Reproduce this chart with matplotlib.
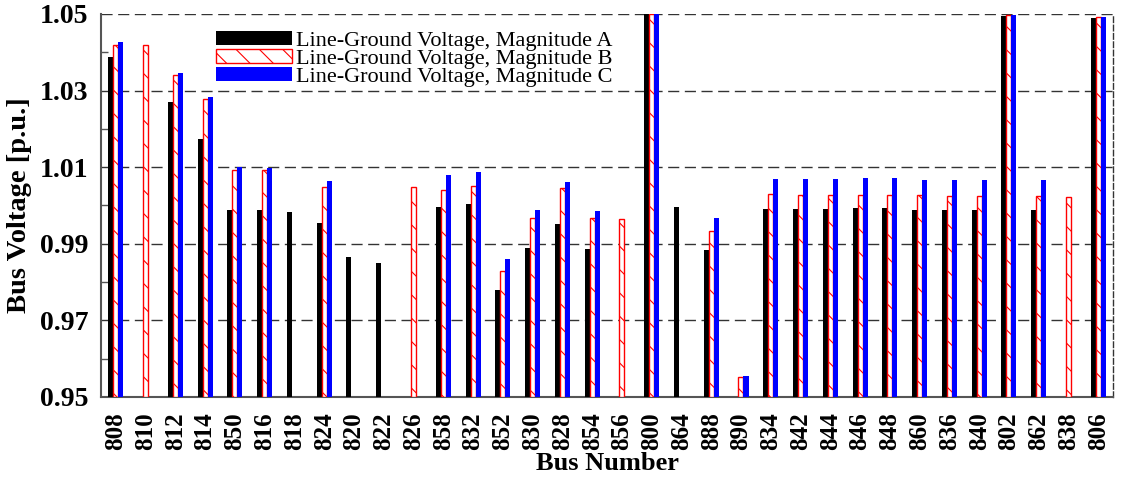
import numpy as np
import matplotlib
matplotlib.use("Agg")
import matplotlib.pyplot as plt
from matplotlib.ticker import MultipleLocator

nan = np.nan
buses = ["808", "810", "812", "814", "850", "816", "818", "824", "820", "822",
         "826", "858", "832", "852", "830", "828", "854", "856", "800", "864",
         "888", "890", "834", "842", "844", "846", "848", "860", "836", "840",
         "802", "862", "838", "806"]
mag_a = [1.0388, nan, 1.0269, 1.0173, 0.9989, 0.9987, 0.9984, 0.9955, 0.9866, 0.9851,
         nan, 0.9997, 1.0004, 0.9779, 0.9888, 0.9952, 0.9887, nan, 1.0500, 0.9997,
         0.9884, nan, 0.9990, 0.9990, 0.9990, 0.9993, 0.9993, 0.9988, 0.9987, 0.9987,
         1.0494, 0.9987, nan, 1.0489]
mag_b = [1.0418, 1.0418, 1.0340, 1.0278, 1.0093, 1.0093, nan, 1.0048, nan, nan,
         1.0047, 1.0041, 1.0052, 0.9828, 0.9967, 1.0045, 0.9967, 0.9965, 1.0500, nan,
         0.9933, 0.9553, 1.0029, 1.0027, 1.0027, 1.0027, 1.0027, 1.0027, 1.0025, 1.0025,
         1.0496, 1.0025, 1.0023, 1.0491]
mag_c = [1.0426, nan, 1.0346, 1.0282, 1.0100, 1.0099, nan, 1.0064, nan, nan,
         nan, 1.0079, 1.0087, 0.9859, 0.9988, 1.0061, 0.9986, nan, 1.0500, nan,
         0.9968, 0.9555, 1.0069, 1.0069, 1.0068, 1.0071, 1.0071, 1.0067, 1.0066, 1.0066,
         1.0497, 1.0067, nan, 1.0492]
labels = ["Line-Ground Voltage, Magnitude A",
          "Line-Ground Voltage, Magnitude B",
          "Line-Ground Voltage, Magnitude C"]

DPI = 140
S = 100.0 / DPI  # keep sizes as if rendered at 100 dpi

plt.rcParams['font.family'] = ['Liberation Serif', 'DejaVu Serif']
plt.rcParams['hatch.linewidth'] = 0.8 * S

fig = plt.figure(figsize=(1121 / DPI, 480 / DPI), dpi=DPI)
ax = fig.add_axes([0.090, 0.173, 0.903, 0.798])

x = np.arange(len(buses))
w = 0.168
base = 0.95
a = np.array(mag_a) - base
b = np.array(mag_b) - base
c = np.array(mag_c) - base
ax.bar(x - w, a, w, bottom=base, color='black', label=labels[0], zorder=3)
ax.bar(x, b, w, bottom=base, facecolor='white', edgecolor='red', hatch='\\\\',
       linewidth=1.0 * S, label=labels[1], zorder=3)
ax.bar(x + w, c, w, bottom=base, color='#0000ff', label=labels[2], zorder=3)

ax.set_xlim(-0.5, len(buses) - 0.5)
ax.set_ylim(0.95, 1.05)
ax.yaxis.set_minor_locator(MultipleLocator(0.01))
ax.set_yticks([0.95, 0.97, 0.99, 1.01, 1.03, 1.05])
ax.set_yticklabels(["0.95", "0.97", "0.99", "1.01", "1.03", "1.05"],
                   fontsize=20 * S, fontweight='bold')
ax.set_xticks(x)
ax.set_xticklabels(buses, rotation=90, fontsize=18 * S, fontweight='bold')
ax.tick_params(axis='x', length=0, pad=11 * S)
ax.tick_params(axis='y', which='both', direction='in', color='#555555', width=1.0 * S)
ax.tick_params(axis='y', which='major', length=0, pad=9 * S)
ax.tick_params(axis='y', which='minor', length=5 * S)

ax.grid(axis='y', which='major', linestyle=(0, (8, 4)), color='#333333',
        linewidth=1.0 * S, zorder=0)
for s in ['left', 'bottom']:
    ax.spines[s].set_color('#555555')
    ax.spines[s].set_linewidth(1.5 * S)
ax.spines['right'].set_linestyle((0, (4, 2)))
ax.spines['right'].set_color('#333333')
ax.spines['right'].set_linewidth(1.0 * S)
ax.spines['top'].set_visible(False)

ax.set_xlabel("Bus Number", fontsize=19 * S, fontweight='bold', labelpad=1 * S)
ax.set_ylabel("Bus Voltage [p.u.]", fontsize=20.5 * S, fontweight='bold', labelpad=6 * S)

leg = ax.legend(loc='upper left', bbox_to_anchor=(0.114, 0.955), frameon=False,
                fontsize=16 * S, handlelength=3.4, handleheight=0.6,
                labelspacing=-0.09, handletextpad=0.2, borderpad=0, borderaxespad=0)

fig.savefig("out.png", dpi=DPI)
